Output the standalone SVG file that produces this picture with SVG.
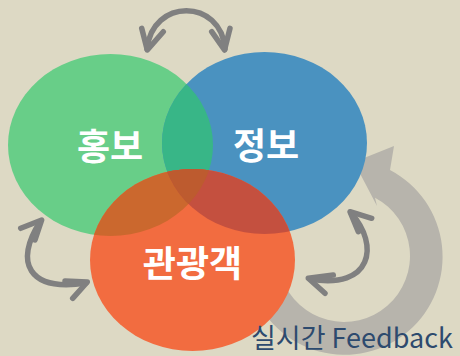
<svg xmlns="http://www.w3.org/2000/svg" xmlns:xlink="http://www.w3.org/1999/xlink" width="460" height="356" viewBox="0 0 460 356">
  <style>
    .label { font-family: "Noto Sans CJK KR", "Noto Sans", sans-serif; font-weight: 700; font-size: 36px; fill: #FFFFFF; text-anchor: middle; }
    .caption { font-family: "Noto Sans CJK KR", "Noto Sans", sans-serif; font-size: 27px; fill: #2D4A6E; }
    .swap { fill: none; stroke: #808080; stroke-width: 5.5; stroke-linecap: round; stroke-linejoin: round; }
    .loop { fill: #B7B4AC; }
  </style>
  <defs>
    <ellipse id="e-green" cx="110.5" cy="145" rx="102.5" ry="91"/>
    <ellipse id="e-blue" cx="264.5" cy="143" rx="102.5" ry="91"/>
    <ellipse id="e-orange" cx="192.5" cy="260" rx="102.5" ry="91"/>
    <clipPath id="clip-green"><use xlink:href="#e-green"/></clipPath>
    <clipPath id="clip-orange"><use xlink:href="#e-orange"/></clipPath>
  </defs>

  <rect width="460" height="356" fill="#DDD9C4"/>

  <!-- connectors: feedback loop and two-way arrows -->
  <g id="connectors">
    <path class="loop" d="M252,289 A98,98 0 1 0 390,170 L394,146 L354,162 L377,206 L375,197.7 A66,66 0 1 1 282,278.6 Z"/>
    <!-- top: 홍보 <-> 정보 -->
    <path class="swap" d="M147,49 C152,-2 221,-2 225,49"/>
    <path class="swap" d="M141.7,28.3 L147.3,50 L163.3,31.7"/>
    <path class="swap" d="M211.7,31.7 L224.5,50 L230,28.3"/>
    <!-- left: 홍보 <-> 관광객 -->
    <path class="swap" d="M40,222 C14,262 28,292 86,283"/>
    <path class="swap" d="M20.7,228.3 L41.7,220 L35,240"/>
    <path class="swap" d="M65,281 L87.3,282 L72.7,298.3"/>
    <!-- right: 정보 <-> 관광객 -->
    <path class="swap" d="M351,213 C380,245 372,290 310,279"/>
    <path class="swap" d="M371.7,218.3 L350,211.7 L358.3,231.7"/>
    <path class="swap" d="M333.3,275 L308.3,278.3 L325,293.3"/>
  </g>

  <g id="node-hongbo">
    <use xlink:href="#e-green" fill="#68CE88"/>
  </g>
  <g id="node-jeongbo">
    <use xlink:href="#e-blue" fill="#4A92C0"/>
  </g>
  <g id="overlap-hongbo-jeongbo">
    <use xlink:href="#e-blue" clip-path="url(#clip-green)" fill="#38B687"/>
  </g>
  <g id="node-gwangwanggaek">
    <use xlink:href="#e-orange" fill="#F26C40"/>
  </g>
  <g id="overlaps-gwangwanggaek">
    <use xlink:href="#e-green" clip-path="url(#clip-orange)" fill="#CB682E"/>
    <use xlink:href="#e-blue" clip-path="url(#clip-orange)" fill="#C4503F"/>
    <g clip-path="url(#clip-orange)">
      <use xlink:href="#e-blue" clip-path="url(#clip-green)" fill="#BD5B2F"/>
    </g>
  </g>

  <g id="labels">
    <text class="label" x="110" y="160">홍보</text>
    <text class="label" x="266" y="159">정보</text>
    <text class="label" x="192.5" y="277">관광객</text>
  </g>

  <text class="caption" x="251" y="348">실시간 Feedback</text>
</svg>
